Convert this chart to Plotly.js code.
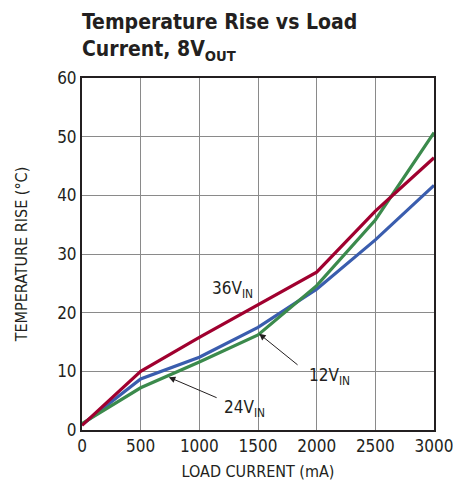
<!DOCTYPE html>
<html><head><meta charset="utf-8">
<script src="https://cdn.plot.ly/plotly-3.0.1.min.js"></script>
<style>body{margin:0;background:#fff}#c{width:453px;height:490px}</style>
</head><body><div id="c"></div>
<script>
const loadCurrent = [0, 500, 1000, 1500, 2000, 2500, 3000];
const rise36 = [0.8, 10.0, 15.8, 21.4, 26.9, 37.3, 46.4];
const rise12 = [0.9, 8.7, 12.4, 17.5, 24.0, 32.4, 41.7];
const rise24 = [1.1, 7.2, 11.6, 16.2, 24.6, 35.8, 50.7];
const xTicks = [0, 500, 1000, 1500, 2000, 2500, 3000];
const yTicks = [0, 10, 20, 30, 40, 50, 60];

const font = "'Liberation Sans Narrow', 'DejaVu Sans Condensed', 'Liberation Sans', sans-serif";
const mk = (y, c) => ({x: loadCurrent, y: y, type: 'scatter', mode: 'lines', line: {color: c, width: 3.2}, hoverinfo: 'skip'});
const data = [mk(rise12, '#3a5dae'), mk(rise24, '#3b8a4c'), mk(rise36, '#a0002f')];

const ann = (x, y, t) => ({x, y, xref: 'x', yref: 'y', text: t, showarrow: false, font: {family: font, size: 17, color: '#231f20'}});
const arrow = (x, y, ax, ay) => ({x, y, ax, ay, xref: 'x', yref: 'y', axref: 'x', ayref: 'y', text: '', showarrow: true, arrowhead: 2, arrowsize: 1.3, arrowwidth: 1, arrowcolor: '#231f20'});

const layout = {
  width: 453, height: 490,
  margin: {l: 82, r: 19, t: 78, b: 60},
  paper_bgcolor: '#fff', plot_bgcolor: '#fff',
  showlegend: false,
  font: {family: font, size: 16, color: '#231f20'},
  xaxis: {range: [0, 3000], tickvals: xTicks, ticktext: xTicks.map(String), showgrid: true, gridcolor: '#8a8a8a', gridwidth: 1,
          zeroline: false, showline: true, linecolor: '#231f20', linewidth: 2, mirror: true, ticks: '', ticklabeloverflow: 'allow',
          tickfont: {family: font, size: 17}, title: {text: 'LOAD CURRENT (mA)', font: {family: font, size: 16}, standoff: 10}},
  yaxis: {range: [0, 60], tickvals: yTicks, ticktext: yTicks.map(String), showgrid: true, gridcolor: '#8a8a8a', gridwidth: 1,
          zeroline: false, showline: true, linecolor: '#231f20', linewidth: 2, mirror: true, ticks: '', ticklabeloverflow: 'allow',
          tickfont: {family: font, size: 17}, title: {text: 'TEMPERATURE RISE (°C)', font: {family: font, size: 16}, standoff: 26}},
  annotations: [
    {x: -2/352, y: 1 + 70/352, xref: 'paper', yref: 'paper', xanchor: 'left', yanchor: 'top', align: 'left', showarrow: false,
     text: '<b>Temperature Rise vs Load<br>Current, 8V<sub>OUT</sub></b>', font: {family: font, size: 21, color: '#231f20'}},
    ann(1279, 24, '36V<sub>IN</sub>'),
    ann(2110, 9.2, '12V<sub>IN</sub>'),
    ann(1385, 3.7, '24V<sub>IN</sub>'),
    arrow(1510, 16.4, 1850, 10.9),
    arrow(740, 9.0, 1160, 5.4)
  ]
};
Plotly.newPlot('c', data, layout, {displayModeBar: false, staticPlot: true});
</script></body></html>
